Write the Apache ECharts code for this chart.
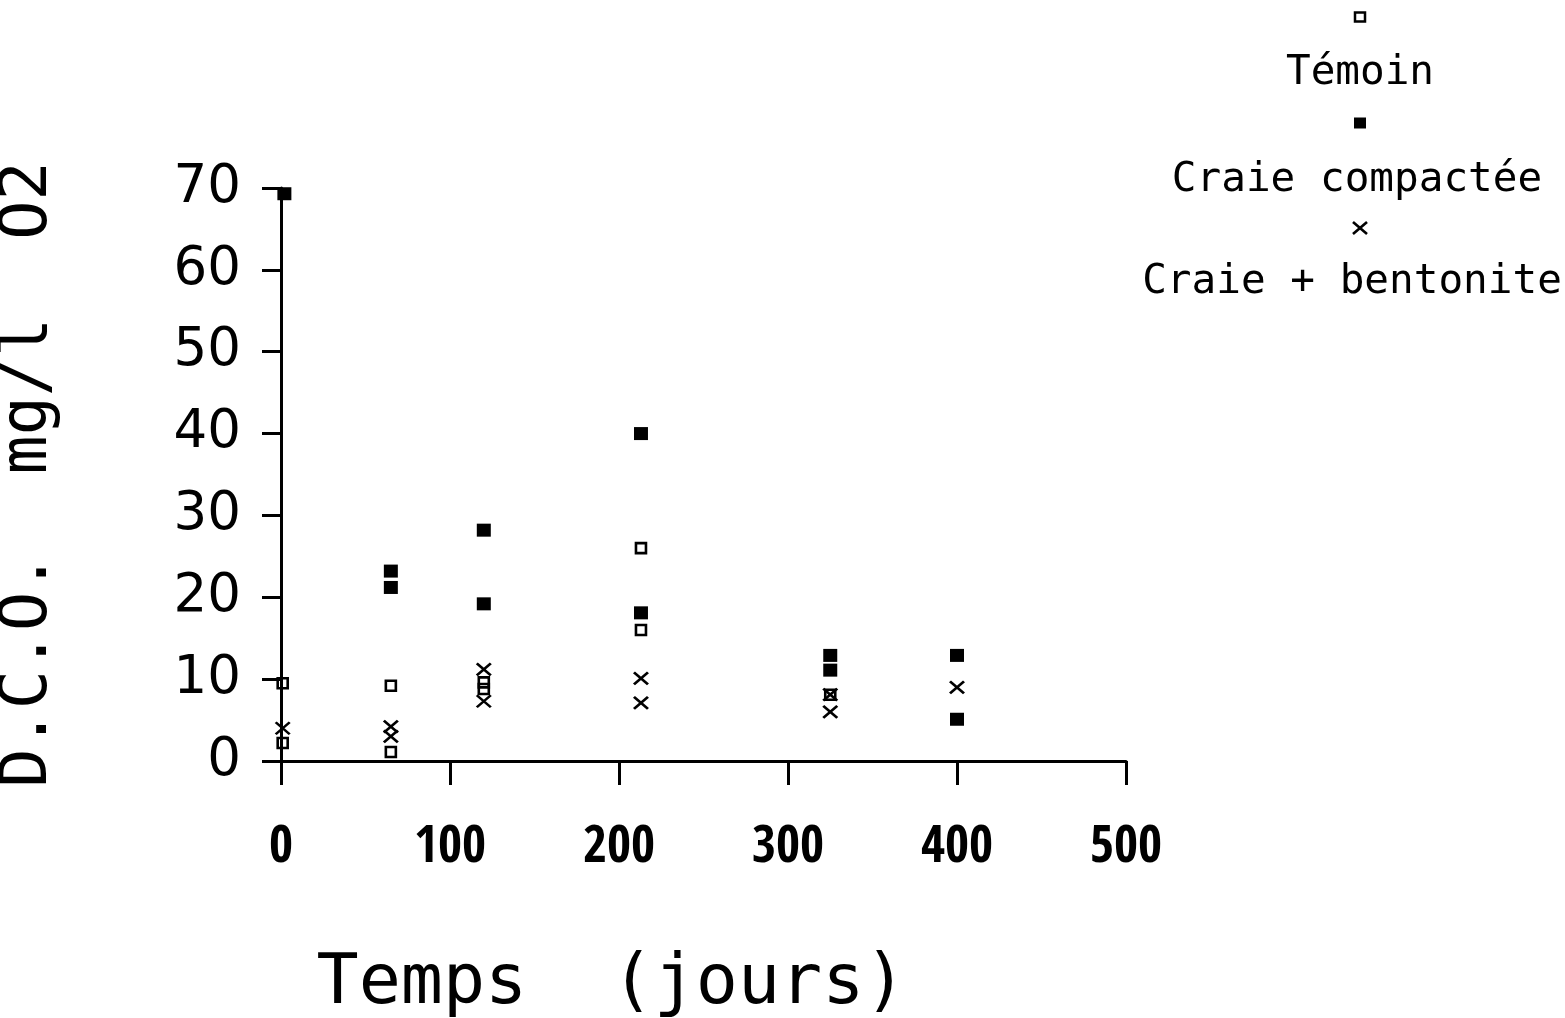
<!DOCTYPE html>
<html>
<head>
<meta charset="utf-8">
<script src="https://cdn.jsdelivr.net/npm/echarts@6/dist/echarts.min.js"></script>
<style>html,body{margin:0;padding:0;background:#fff;}#chart{width:1565px;height:1018px;}</style>
</head>
<body>
<div id="chart"></div>
<script>
// ---- data ----
const seriesNames = ['Témoin', 'Craie compactée', 'Craie + bentonite'];
const temoinDays   = [1, 1, 65, 65, 120, 120, 213, 213, 325];
const temoinValues = [9.5, 2.2, 9.2, 1.1, 9.6, 8.8, 26.0, 16.0, 8.1];
const compacteeDays   = [2, 65, 65, 120, 120, 213, 213, 325, 325, 400, 400];
const compacteeValues = [69.3, 23.2, 21.2, 28.2, 19.2, 40.0, 18.1, 12.9, 11.1, 12.9, 5.1];
const bentoniteDays   = [1, 65, 65, 120, 120, 213, 213, 325, 325, 400];
const bentoniteValues = [4.0, 4.2, 3.0, 11.2, 7.3, 10.1, 7.1, 8.1, 6.0, 9.0];
const xTicks = [0, 100, 200, 300, 400, 500];
const yTicks = [0, 10, 20, 30, 40, 50, 60, 70];
const xTitle = 'Temps  (jours)';
const yTitle = 'D.C.O.  mg/l  O2';

// ---- build ----
function pairs(xs, ys) { return xs.map((x, i) => [x, ys[i]]); }
const crossPath = 'path://M0,0L10,10M10,0L0,10';

const chart = echarts.init(document.getElementById('chart'), null, {renderer: 'canvas'});

const legendXs = [1360, 1357, 1352];
const legendSymX = 1360;
const legendSymY = [17, 123, 228];
const legendTextY = [73, 180, 282];
const legendFont = '41px "DejaVu Sans Mono"';
const graphics = [];
seriesNames.forEach((name, i) => {
  if (i === 0) {
    graphics.push({type: 'rect', x: legendSymX, y: legendSymY[i], shape: {x: -5, y: -4.5, width: 10, height: 9},
      style: {fill: 'none', stroke: '#000', lineWidth: 2.5}});
  } else if (i === 1) {
    graphics.push({type: 'rect', x: legendSymX, y: legendSymY[i], shape: {x: -6, y: -5.5, width: 12, height: 11},
      style: {fill: '#000'}});
  } else {
    graphics.push({type: 'line', x: legendSymX, y: legendSymY[i], shape: {x1: -7, y1: -6, x2: 7, y2: 6},
      style: {stroke: '#000', lineWidth: 2.6}});
    graphics.push({type: 'line', x: legendSymX, y: legendSymY[i], shape: {x1: 7, y1: -6, x2: -7, y2: 6},
      style: {stroke: '#000', lineWidth: 2.6}});
  }
  graphics.push({type: 'text', x: legendXs[i], y: legendTextY[i],
    style: {text: name, font: legendFont, fill: '#000', align: 'center', verticalAlign: 'middle'}});
});

const option = {
  backgroundColor: '#fff',
  animation: false,
  grid: {left: 281, right: 439, top: 188, bottom: 257, containLabel: false, outerBoundsMode: 'none'},
  xAxis: {
    type: 'value', min: xTicks[0], max: xTicks[xTicks.length - 1], interval: 100,
    axisLine: {show: true, onZero: false, lineStyle: {color: '#000', width: 3}},
    axisTick: {show: true, length: 24, lineStyle: {color: '#000', width: 3}},
    axisLabel: {margin: 61, color: '#000',
      fontFamily: '"Open Sans Condensed", "Liberation Sans Narrow", "DejaVu Sans"', fontStyle: 'condensed',
      fontWeight: 'bold', fontSize: 52},
    splitLine: {show: false},
    name: xTitle, nameLocation: 'middle', nameGap: 189,
    nameTextStyle: {color: '#000', fontFamily: '"DejaVu Sans Mono"', fontSize: 70, padding: [0, 184, 0, 0]}
  },
  yAxis: {
    type: 'value', min: yTicks[0], max: yTicks[yTicks.length - 1], interval: 10,
    axisLine: {show: true, onZero: false, lineStyle: {color: '#000', width: 3}},
    axisTick: {show: true, length: 19, lineStyle: {color: '#000', width: 3}},
    axisLabel: {margin: 40, color: '#000', fontFamily: '"DejaVu Sans"', fontSize: 53},
    splitLine: {show: false},
    name: yTitle, nameLocation: 'middle', nameGap: 219, nameRotate: 90,
    nameTextStyle: {color: '#000', fontFamily: '"DejaVu Sans Mono"', fontSize: 65}
  },
  series: [
    {name: seriesNames[0], type: 'scatter', data: pairs(temoinDays, temoinValues),
      symbol: 'rect', symbolSize: [10, 10], z: 3,
      itemStyle: {color: 'rgba(0,0,0,0)', borderColor: '#000', borderWidth: 2.6, opacity: 1},
      emphasis: {disabled: true}},
    {name: seriesNames[1], type: 'scatter', data: pairs(compacteeDays, compacteeValues),
      symbol: 'rect', symbolSize: [14, 13], z: 4,
      itemStyle: {color: '#000', opacity: 1}, emphasis: {disabled: true}},
    {name: seriesNames[2], type: 'scatter', data: pairs(bentoniteDays, bentoniteValues),
      symbol: crossPath, symbolSize: [14, 12], z: 5,
      itemStyle: {color: 'none', borderColor: '#000', borderWidth: 2.6, opacity: 1},
      emphasis: {disabled: true}}
  ],
  graphic: graphics
};
chart.setOption(option);
</script>
</body>
</html>
